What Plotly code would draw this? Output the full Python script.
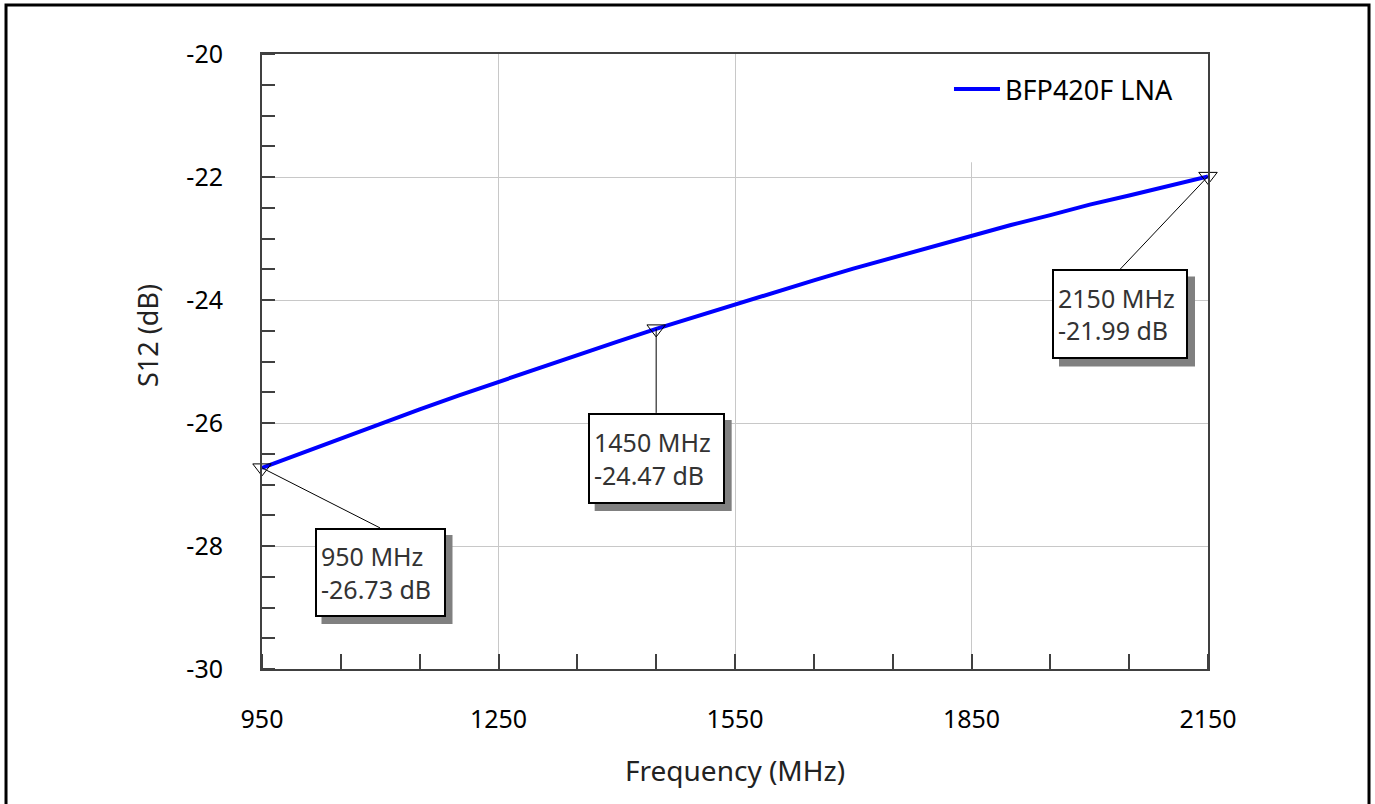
import plotly.graph_objects as go

# ---- data ----
freq_mhz = [950, 1000, 1050, 1100, 1150, 1200, 1250, 1300, 1350, 1400, 1450, 1500,
            1550, 1600, 1650, 1700, 1750, 1800, 1850, 1900, 1950, 2000, 2050, 2100, 2150]
s12_db = [-26.73, -26.49, -26.25, -26.01, -25.78, -25.55, -25.33, -25.11, -24.89, -24.68,
          -24.47, -24.27, -24.07, -23.87, -23.68, -23.49, -23.31, -23.13, -22.96, -22.78,
          -22.62, -22.45, -22.30, -22.14, -21.99]
series_name = "BFP420F LNA"
marker_freq = [950, 1450, 2150]
marker_val = [-26.73, -24.47, -21.99]
marker_labels = ["950 MHz<br>-26.73 dB", "1450 MHz<br>-24.47 dB", "2150 MHz<br>-21.99 dB"]
x_tick_vals = [950, 1250, 1550, 1850, 2150]
x_tick_text = ["950", "1250", "1550", "1850", "2150"]
y_tick_vals = [-30, -28, -26, -24, -22, -20]
y_tick_text = ["-30", "-28", "-26", "-24", "-22", "-20"]
x_title = "Frequency (MHz)"
y_title = "S12 (dB)"

# callout geometry (pixel offsets of tail from head, inner box size)
callout_ax = [118, 0, -88]
callout_ay = [60, 84, 93]
callout_w = [119, 125, 124]
callout_h = [77, 79, 78]
BW, PAD, SH = 2, 4, 7

FONT = "Noto Sans"

fig = go.Figure()
fig.add_trace(go.Scatter(
    x=freq_mhz, y=s12_db, mode="lines", name=series_name,
    line=dict(color="#0000FF", width=4), showlegend=True))
fig.add_trace(go.Scatter(
    x=marker_freq, y=marker_val, mode="markers", showlegend=False, cliponaxis=False,
    marker=dict(symbol="triangle-down-open", size=16, color="black", line=dict(width=1, color="black"))))

annotations = []
shapes = [
    # legend area white background covering gridlines
    dict(type="rect", xref="x", yref="y", x0=1800, x1=2150, y0=-21.76, y1=-20,
         fillcolor="white", line=dict(width=0), layer="between"),
    # outer border
    dict(type="rect", xref="paper", yref="paper", x0=-0.2706, x1=1.1702, y0=-0.225, y1=1.0797,
         line=dict(color="black", width=3), fillcolor="rgba(0,0,0,0)", layer="above"),
]
for i in range(3):
    W = callout_w[i] + 2 * (BW + PAD)
    H = callout_h[i] + 2 * (BW + PAD)
    # drop shadow, positioned in pixels relative to the marker point
    shapes.append(dict(
        type="rect", xref="x", yref="y", xsizemode="pixel", ysizemode="pixel",
        xanchor=marker_freq[i], yanchor=marker_val[i],
        x0=callout_ax[i] - W / 2 + SH, x1=callout_ax[i] + W / 2 + SH,
        y0=-(callout_ay[i] + H) - SH, y1=-callout_ay[i] - SH,
        fillcolor="#808080", line=dict(width=0), layer="above"))
    annotations.append(dict(
        x=marker_freq[i], y=marker_val[i], xref="x", yref="y",
        ax=callout_ax[i], ay=callout_ay[i], showarrow=True, arrowcolor="black",
        arrowhead=0, arrowwidth=1, xanchor="center", yanchor="top",
        text=marker_labels[i], align="left", width=callout_w[i], height=callout_h[i],
        bgcolor="white", bordercolor="black", borderwidth=BW, borderpad=PAD,
        font=dict(family=FONT, size=25, color="#333333")))
# axis titles
annotations.append(dict(x=0.5, y=-0.1642, xref="paper", yref="paper", showarrow=False,
                        text=x_title, xanchor="center", yanchor="middle",
                        font=dict(family=FONT, size=28, color="#222222")))
annotations.append(dict(x=-0.1216, y=0.543, xref="paper", yref="paper", showarrow=False,
                        text=y_title, textangle=-90, xanchor="center", yanchor="middle",
                        font=dict(family=FONT, size=27, color="#222222")))

axis_common = dict(showline=True, mirror=True, linecolor="#404040", linewidth=2,
                   showgrid=True, gridcolor="#C8C8C8", gridwidth=1, zeroline=False,
                   ticks="", tickfont=dict(family=FONT, size=25, color="black"))

fig.update_layout(
    width=1375, height=804, autosize=False,
    margin=dict(l=262, r=167, t=54, b=135),
    paper_bgcolor="white", plot_bgcolor="white",
    xaxis=dict(range=[950, 2150], tickmode="array", tickvals=x_tick_vals, ticktext=x_tick_text,
               ticklabelstandoff=27,
               minor=dict(tick0=950, dtick=100, ticks="inside", ticklen=15, tickcolor="#404040",
                          tickwidth=2, showgrid=False),
               **axis_common),
    yaxis=dict(range=[-30, -20], tickmode="array", tickvals=y_tick_vals, ticktext=y_tick_text,
               ticklabelstandoff=32,
               minor=dict(tick0=-30, dtick=0.5, ticks="inside", ticklen=13, tickcolor="#404040",
                          tickwidth=2, showgrid=False),
               **axis_common),
    legend=dict(x=0.7262, y=0.982, xanchor="left", yanchor="top", bgcolor="rgba(0,0,0,0)",
                font=dict(family=FONT, size=27, color="black"), itemwidth=46),
    annotations=annotations,
    shapes=shapes,
)

fig.write_html("out.html")
